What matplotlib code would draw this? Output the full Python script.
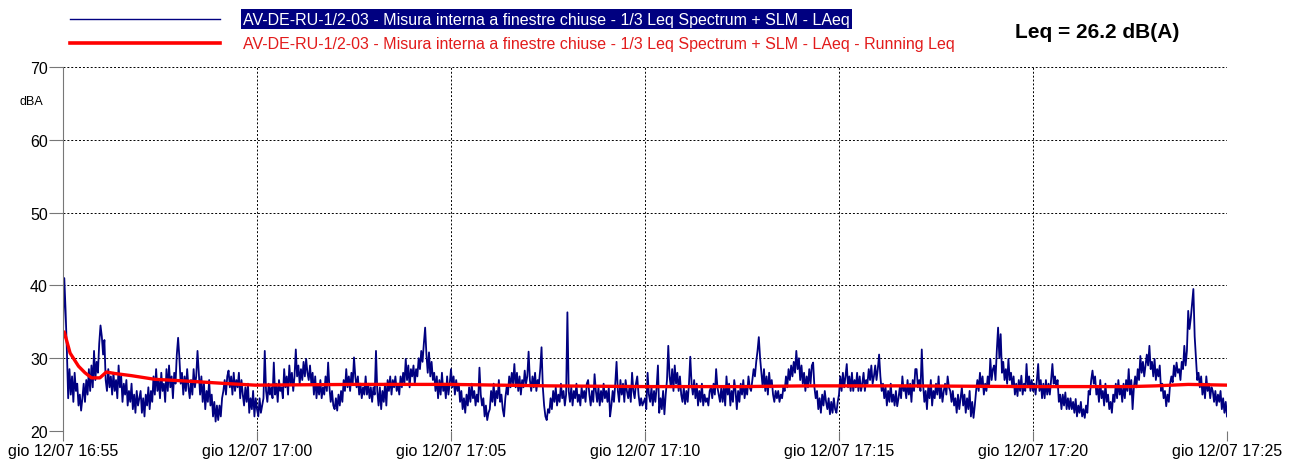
import matplotlib
matplotlib.use("Agg")
import numpy as np
import pandas as pd
import matplotlib.pyplot as plt
import matplotlib.dates as mdates
from matplotlib.lines import Line2D

plt.rcParams['font.family'] = ['Liberation Sans', 'DejaVu Sans']

# LAeq, one value every 2 s, one row per minute (16:55 -> 17:25)
laeq = [
    33.5, 41.0, 36.5, 31.0, 24.5, 28.5, 25.0, 27.5, 24.0, 28.0, 25.5, 26.5, 23.5, 25.0, 22.8, 24.5, 26.5, 24.0, 27.0, 25.0, 28.5, 25.5, 29.0, 26.0, 31.0, 27.0, 29.5, 28.0, 32.0, 34.5,
    33.0, 30.5, 32.5, 27.0, 25.5, 28.5, 26.0, 27.5, 25.0, 28.0, 25.5, 27.0, 24.5, 29.0, 26.0, 27.5, 24.0, 26.5, 25.0, 27.0, 23.5, 25.5, 24.0, 26.5, 23.0, 25.0, 22.5, 25.5, 23.5, 24.5,
    25.5, 22.5, 24.5, 22.0, 25.0, 23.5, 26.0, 23.0, 25.5, 24.0, 27.5, 25.0, 28.5, 25.5, 27.0, 24.5, 28.0, 25.5, 26.5, 24.0, 28.5, 25.5, 29.0, 26.0, 27.5, 24.5, 28.0, 26.5, 30.5, 32.8,
    30.0, 26.5, 28.0, 25.0, 27.5, 25.5, 28.5, 26.0, 24.5, 27.0, 25.0, 28.5, 26.0, 27.5, 31.0, 28.0, 25.0, 27.5, 24.0, 26.5, 23.0, 25.5, 24.0, 27.0, 23.5, 25.0, 22.0, 24.0, 21.3, 23.5,
    21.5, 23.5, 22.0, 24.5, 25.5, 27.0, 25.0, 27.5, 28.3, 26.0, 27.5, 25.0, 28.0, 25.5, 27.0, 26.0, 28.0, 24.5, 27.0, 25.0, 23.5, 26.0, 24.0, 26.5, 22.5, 24.5, 23.0, 25.5, 22.0, 24.5,
    23.0, 22.0, 24.5, 22.5, 23.5, 24.5, 31.0, 25.5, 24.0, 26.5, 25.0, 26.0, 24.5, 29.4, 25.0, 26.5, 24.0, 27.0, 25.5, 26.0, 24.5, 28.5, 26.0, 27.5, 25.0, 29.0, 26.5, 28.0, 25.5, 27.5,
    31.2, 27.5, 29.0, 26.5, 28.5, 27.0, 29.5, 27.5, 29.9, 28.0, 27.0, 29.0, 26.5, 28.0, 25.0, 27.5, 24.5, 26.5, 25.0, 27.0, 24.5, 26.0, 25.0, 27.5, 25.5, 29.4, 26.0, 24.0, 25.5, 23.5,
    23.0, 24.5, 22.8, 25.0, 23.5, 25.5, 24.0, 27.0, 25.5, 28.5, 26.0, 27.5, 25.5, 28.0, 26.5, 30.1, 27.5, 26.0, 27.5, 25.0, 26.5, 24.5, 26.0, 25.0, 27.5, 25.0, 26.5, 24.5, 26.0, 24.0,
    26.0, 25.0, 31.0, 25.5, 23.5, 26.0, 23.0, 25.5, 24.0, 26.5, 23.5, 27.0, 25.5, 27.5, 25.0, 27.0, 26.0, 27.5, 25.5, 26.5, 25.0, 27.5, 26.0, 28.0, 26.5, 29.9, 27.0, 29.0, 26.0, 28.5,
    27.5, 29.0, 26.5, 28.5, 27.5, 30.0, 28.5, 31.0, 29.5, 32.0, 34.2, 30.5, 28.0, 30.8, 27.5, 29.5, 27.0, 28.0, 25.5, 27.5, 24.5, 27.0, 25.0, 28.0, 25.5, 26.5, 24.5, 27.5, 25.0, 26.5,
    28.5, 26.0, 27.5, 25.0, 27.0, 25.5, 26.5, 24.0, 25.5, 23.0, 24.5, 22.5, 25.0, 23.5, 26.0, 24.0, 26.5, 24.5, 25.5, 23.5, 25.0, 24.0, 28.7, 25.0, 23.5, 24.5, 22.0, 23.5, 21.5, 22.5,
    23.0, 25.5, 24.0, 26.5, 23.5, 25.5, 24.5, 27.0, 24.0, 25.0, 23.0, 22.0, 24.5, 26.0, 25.0, 27.5, 26.0, 28.0, 26.5, 29.2, 26.0, 28.0, 25.5, 27.5, 25.0, 27.0, 26.0, 28.3, 26.5, 27.5,
    30.9, 27.0, 25.5, 27.5, 26.0, 28.0, 25.5, 27.0, 26.5, 28.5, 31.5, 26.0, 23.5, 22.0, 21.5, 23.0, 22.5, 24.5, 23.0, 25.5, 24.0, 26.0, 23.5, 25.0, 24.0, 26.5, 24.5, 25.5, 23.5, 25.0,
    36.3, 25.5, 24.0, 26.0, 23.5, 25.5, 24.5, 26.5, 24.0, 25.0, 23.5, 26.0, 24.5, 25.5, 24.0, 26.5, 27.0, 25.0, 23.5, 25.5, 24.0, 27.8, 25.5, 24.0, 26.0, 23.5, 25.5, 24.0, 26.5, 24.5,
    25.5, 24.0, 26.0, 22.0, 23.5, 25.5, 24.0, 26.5, 29.5, 25.5, 24.0, 27.0, 25.0, 26.5, 24.0, 27.0, 25.5, 24.5, 26.0, 24.0, 28.0, 25.5, 24.5, 26.5, 27.5, 25.0, 23.5, 24.5, 23.5, 24.0,
    24.5, 23.0, 28.0, 25.0, 24.0, 26.0, 23.5, 25.5, 24.0, 26.0, 29.0, 22.5, 24.5, 23.0, 25.5, 22.3, 25.0, 27.0, 31.7, 27.5, 26.0, 28.5, 25.5, 29.0, 26.5, 28.0, 25.5, 27.5, 25.0, 24.0,
    26.0, 23.7, 25.5, 24.0, 26.5, 30.2, 26.5, 25.0, 27.0, 24.5, 26.5, 23.5, 25.5, 24.0, 26.5, 23.5, 25.0, 24.0, 24.5, 23.5, 25.5, 26.0, 24.5, 26.5, 25.0, 28.5, 26.0, 25.0, 24.0, 26.0,
    24.0, 26.0, 23.5, 27.5, 25.0, 26.5, 23.5, 25.5, 24.0, 27.0, 25.5, 23.0, 25.5, 24.0, 26.5, 25.0, 27.0, 24.5, 26.0, 25.0, 27.5, 26.0, 25.5, 27.0, 28.5, 27.5, 29.5, 31.0, 32.9, 30.0,
    28.0, 26.0, 28.5, 25.5, 27.5, 25.0, 28.0, 26.0, 27.0, 25.0, 24.0, 25.5, 24.5, 25.5, 24.0, 25.0, 24.5, 26.0, 25.5, 27.5, 26.0, 28.5, 27.0, 29.0, 27.5, 29.5, 28.0, 31.0, 28.5, 30.0,
    27.0, 29.0, 26.5, 28.0, 25.5, 27.5, 26.0, 28.5, 26.5, 29.0, 29.4, 26.0, 24.5, 25.5, 23.0, 24.5, 22.5, 25.0, 23.5, 25.5, 24.0, 23.0, 24.5, 22.3, 24.0, 22.5, 24.5, 23.0, 22.5, 24.0,
    25.0, 27.5, 25.5, 28.0, 26.0, 27.5, 29.2, 26.0, 27.5, 25.5, 28.0, 25.5, 27.0, 26.0, 28.0, 25.5, 27.5, 25.5, 26.5, 28.0, 25.5, 27.0, 26.5, 28.5, 27.0, 29.0, 26.5, 27.5, 29.0, 27.0,
    28.5, 30.5, 27.5, 25.5, 26.5, 24.5, 26.0, 23.5, 25.5, 24.0, 26.5, 24.0, 25.0, 23.5, 25.5, 23.4, 24.5, 26.0, 24.5, 27.5, 25.5, 26.0, 24.5, 27.0, 25.0, 26.5, 24.0, 27.0, 25.5, 28.5,
    28.5, 26.0, 27.0, 25.5, 31.2, 26.5, 24.0, 25.5, 23.0, 26.0, 24.5, 27.0, 23.5, 25.5, 24.5, 26.5, 25.0, 27.5, 24.5, 26.0, 24.0, 25.5, 26.5, 25.0, 27.5, 26.0, 25.5, 24.0, 25.5, 23.5,
    24.5, 22.5, 25.0, 23.0, 24.5, 26.0, 23.5, 25.0, 22.5, 24.5, 23.0, 25.5, 22.0, 24.0, 21.8, 23.5, 25.5, 27.0, 25.5, 28.0, 26.0, 27.5, 25.0, 26.5, 25.5, 27.5, 26.0, 29.9, 27.0, 28.5,
    29.0, 27.0, 31.0, 34.2, 30.0, 33.3, 28.0, 29.5, 27.0, 28.5, 26.5, 29.9, 27.0, 28.0, 26.0, 27.5, 25.0, 26.5, 24.8, 27.0, 25.5, 27.6, 25.0, 26.5, 25.5, 29.2, 26.0, 27.5, 25.5, 27.0,
    25.5, 26.5, 25.0, 27.0, 29.2, 25.5, 27.0, 24.5, 26.5, 24.5, 27.0, 25.0, 26.5, 25.0, 27.0, 29.2, 26.5, 27.5, 26.0, 27.0, 24.0, 25.0, 23.0, 25.0, 23.5, 25.3, 23.0, 24.5, 23.0, 24.5,
    23.0, 24.0, 22.5, 24.4, 22.0, 23.5, 22.5, 24.0, 22.0, 23.0, 21.8, 23.5, 22.5, 25.5, 25.0, 27.0, 28.3, 26.5, 27.5, 25.0, 26.0, 24.0, 27.0, 24.5, 25.5, 23.5, 26.5, 24.0, 25.0, 23.0,
    24.0, 22.5, 25.0, 24.0, 26.5, 24.5, 27.0, 25.0, 26.0, 24.0, 26.5, 24.5, 27.0, 25.5, 28.5, 25.0, 27.0, 23.0, 26.0, 27.5, 26.0, 28.5, 27.0, 30.3, 28.0, 29.5, 27.5, 29.0, 30.5, 29.0,
    31.7, 28.5, 29.5, 27.5, 29.9, 27.0, 28.5, 27.5, 29.0, 25.5, 26.5, 24.5, 25.5, 23.4, 25.0, 24.0, 26.5, 27.5, 26.7, 29.0, 27.5, 29.4, 28.0, 28.5, 27.0, 29.5, 28.5, 31.7, 29.0, 31.0,
    36.5, 34.0, 35.5, 37.5, 39.5, 33.0, 30.0, 27.0, 28.0, 26.0, 27.5, 25.0, 26.5, 24.5, 27.5, 25.5, 26.5, 24.5, 26.0, 25.5, 24.0, 25.5, 23.5, 25.0, 24.0, 25.5, 23.0, 24.5, 22.5, 24.0,
    22.0,
]

# running Leq (seconds from start, dB)
run_sec = [0, 2, 11, 24, 34, 44, 57, 67, 80, 106, 142, 183, 220, 256, 297, 450, 600,
           750, 900, 1050, 1150, 1300, 1500, 1650, 1690, 1740, 1770, 1800]
run_leq = [33.0, 33.6, 30.7, 28.9, 28.0, 27.3, 27.3, 28.1, 27.9, 27.6, 27.1, 26.9, 26.7,
           26.5, 26.3, 26.4, 26.4, 26.2, 26.1, 26.1, 26.2, 26.2, 26.1, 26.1, 26.2, 26.4, 26.35, 26.3]

label_main = "AV-DE-RU-1/2-03 - Misura interna a finestre chiuse - 1/3 Leq Spectrum + SLM - LAeq"
label_run = label_main + " - Running Leq"
leq_total = 26.2

start = pd.Timestamp("2018-07-12 16:55:00")
end = pd.Timestamp("2018-07-12 17:25:00")
t = start + pd.to_timedelta(np.arange(len(laeq)) * 2, unit="s")
t_run = start + pd.to_timedelta(run_sec, unit="s")

navy = "#000080"
W, H = 1295, 464
fig = plt.figure(figsize=(W / 100, H / 100), dpi=100)
ax = fig.add_axes([63 / W, 1 - 432 / H, (1227 - 63) / W, (432 - 68) / H])

ax.plot(t, laeq, color=navy, lw=1.3)
ax.plot(t_run, run_leq, color="#ff0000", lw=2.4)

ax.set_xlim(start, end)
ax.set_ylim(20, 70)
ax.set_yticks(range(20, 71, 10))
ax.xaxis.set_major_locator(mdates.MinuteLocator(byminute=range(0, 60, 5)))
ax.xaxis.set_major_formatter(mdates.DateFormatter("gio %d/%m %H:%M"))

ax.grid(True, color="black", ls=(0, (2, 2)), lw=0.7)
for s in ["top", "right", "bottom"]:
    ax.spines[s].set_visible(False)
ax.spines["left"].set_color("#777777")
ax.tick_params(axis="y", length=10, width=0.8, color="#777777", pad=1, labelsize=11.5)
ax.tick_params(axis="x", length=7, width=0.8, color="#777777", pad=2, labelsize=11.5)

fig.text(20 / W, 1 - 102 / H, "dBA", fontsize=9, va="center")

# legend drawn by hand, like the original
fig.add_artist(Line2D([70 / W, 220 / W], [1 - 20 / H] * 2, color=navy, lw=1.0))
fig.add_artist(Line2D([70 / W, 220 / W], [1 - 44 / H] * 2, color="#ff0000", lw=2.6))
fig.text(243 / W, 1 - 20 / H, label_main, fontsize=11.5, va="center", color="white",
         bbox=dict(facecolor=navy, edgecolor="none", pad=1.5))
fig.text(243 / W, 1 - 44 / H, label_run, fontsize=11.5, va="center", color="#e21b1b")
fig.text(1015 / W, 1 - 33 / H, "Leq = %.1f dB(A)" % leq_total, fontsize=15,
         fontweight="bold", va="center")

fig.savefig("out.png", dpi=100)
